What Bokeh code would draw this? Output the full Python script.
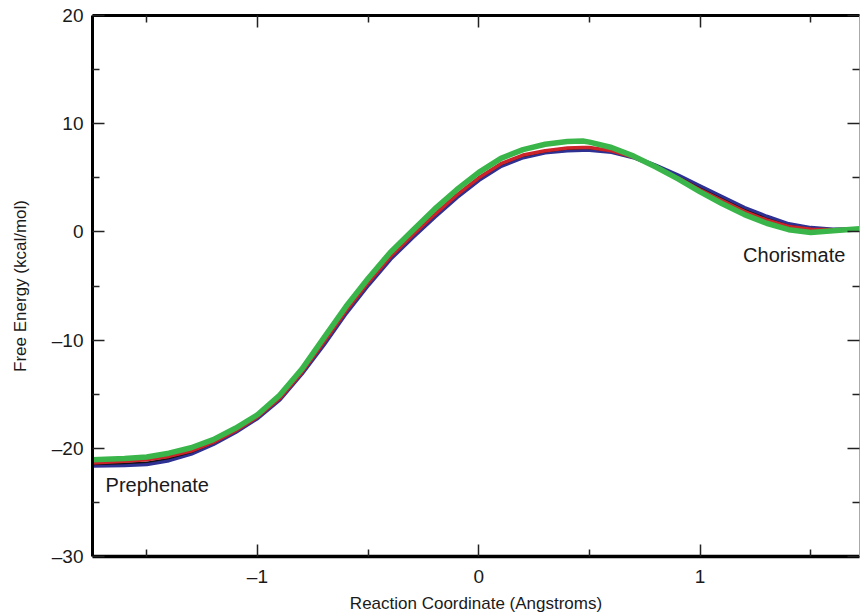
from bokeh.plotting import figure
from bokeh.models import LinearAxis, FixedTicker, Range1d, Label
from bokeh.embed import file_html
from bokeh.resources import INLINE

# ---- data ----
x_vals = [-1.745, -1.6, -1.5, -1.4, -1.3, -1.2, -1.1, -1.0, -0.9, -0.8, -0.7,
          -0.6, -0.5, -0.4, -0.3, -0.2, -0.1, 0.0, 0.1, 0.2, 0.3, 0.4, 0.47,
          0.5, 0.6, 0.7, 0.8, 0.9, 1.0, 1.1, 1.2, 1.3, 1.4, 1.5, 1.6, 1.72]

green = [-21.05, -20.95, -20.8, -20.45, -19.95, -19.2, -18.15, -16.9, -15.1,
         -12.7, -9.8, -6.9, -4.3, -1.9, 0.1, 2.1, 3.9, 5.5, 6.8, 7.6, 8.1,
         8.35, 8.4, 8.3, 7.8, 7.0, 6.0, 4.9, 3.7, 2.6, 1.6, 0.8, 0.2, -0.05,
         0.1, 0.3]

red = [-21.35, -21.2, -21.05, -20.75, -20.25, -19.45, -18.4, -17.1, -15.4,
       -13.0, -10.2, -7.3, -4.7, -2.3, -0.3, 1.6, 3.4, 5.0, 6.3, 7.1, 7.5,
       7.75, 7.8, 7.8, 7.5, 6.9, 6.0, 5.0, 3.9, 2.9, 1.9, 1.1, 0.5, 0.25,
       0.2, 0.25]

blue = [-21.6, -21.55, -21.45, -21.1, -20.5, -19.6, -18.5, -17.2, -15.5,
        -13.1, -10.4, -7.5, -4.9, -2.5, -0.5, 1.4, 3.2, 4.8, 6.1, 6.9, 7.35,
        7.55, 7.6, 7.6, 7.4, 6.9, 6.1, 5.2, 4.2, 3.2, 2.2, 1.4, 0.7, 0.35,
        0.2, 0.25]

black = [-21.5, -21.4, -21.3, -20.95, -20.4, -19.55, -18.45, -17.15, -15.45,
         -13.05, -10.3, -7.4, -4.8, -2.4, -0.4, 1.5, 3.3, 4.9, 6.2, 7.0, 7.4,
         7.65, 7.7, 7.7, 7.45, 6.9, 6.05, 5.1, 4.05, 3.05, 2.05, 1.25, 0.6,
         0.3, 0.2, 0.25]

x_major = [-1, 0, 1]
x_minor = [-1.5, -0.5, 0.5, 1.5]
y_major = [-30, -20, -10, 0, 10, 20]
y_minor = [-25, -15, -5, 5, 15]
x_labels = {-1: "\u20131", 0: "0", 1: "1"}
y_labels = {-30: "\u201330", -20: "\u201320", -10: "\u201310", 0: "0", 10: "10", 20: "20"}

x_title = "Reaction Coordinate (Angstroms)"
y_title = "Free Energy (kcal/mol)"
annotations = [("Prephenate", -1.686, -23.4), ("Chorismate", 1.194, -2.1)]

FONT = "Liberation Sans"

p = figure(width=861, height=615, output_backend="svg", toolbar_location=None,
           x_range=Range1d(-1.745, 1.72), y_range=Range1d(-30, 20),
           x_axis_location=None, y_axis_location=None,
           min_border_left=92, min_border_right=2, min_border_top=15,
           min_border_bottom=56)
p.outline_line_color = None
p.xgrid.visible = False
p.ygrid.visible = False
p.background_fill_color = "white"
p.border_fill_color = "white"


def make_axis(ticks, minor, labels, show_labels, title=None, lw=3, color="black"):
    ax = LinearAxis(ticker=FixedTicker(ticks=ticks, minor_ticks=minor))
    ax.axis_line_width = lw
    ax.axis_line_color = color
    ax.major_tick_in = 12
    ax.major_tick_out = 0
    ax.minor_tick_in = 7
    ax.minor_tick_out = 0
    ax.major_tick_line_width = 1.5
    ax.minor_tick_line_width = 1.5
    ax.major_tick_line_color = "#222222"
    ax.minor_tick_line_color = "#222222"
    if show_labels:
        ax.major_label_overrides = labels
        ax.major_label_text_font = FONT
        ax.major_label_text_font_size = "19px"
        ax.major_label_text_color = "#1a1a1a"
        ax.major_label_standoff = 9
    else:
        ax.major_label_text_font_size = "0px"
        ax.major_label_standoff = 0
    if title:
        ax.axis_label = title
        ax.axis_label_text_font = FONT
        ax.axis_label_text_font_size = "17px"
        ax.axis_label_text_font_style = "normal"
        ax.axis_label_text_color = "#1a1a1a"
    return ax


bottom = make_axis(x_major, x_minor, x_labels, True, x_title, lw=3.5)
bottom.axis_label_standoff = 4
top = make_axis(x_major, x_minor, x_labels, False, lw=3)
left = make_axis(y_major, y_minor, y_labels, True, y_title, lw=3)
left.axis_label_standoff = 19
right = make_axis(y_major, y_minor, y_labels, False, lw=1, color="#aaaaaa")

p.add_layout(bottom, "below")
p.add_layout(top, "above")
p.add_layout(left, "left")
p.add_layout(right, "right")

p.line(x_vals, blue, line_color="#2e3192", line_width=4.5)
p.line(x_vals, black, line_color="#111111", line_width=1.5)
p.line(x_vals, red, line_color="#cc2229", line_width=3.5)
p.line(x_vals, green, line_color="#3ab54a", line_width=5.5)

for txt, tx, ty in annotations:
    p.add_layout(Label(x=tx, y=ty, text=txt, text_font=FONT,
                       text_font_size="20px", text_color="#1a1a1a",
                       text_baseline="middle", text_align="left"))

open("out.html", "w").write(file_html(p, INLINE))
